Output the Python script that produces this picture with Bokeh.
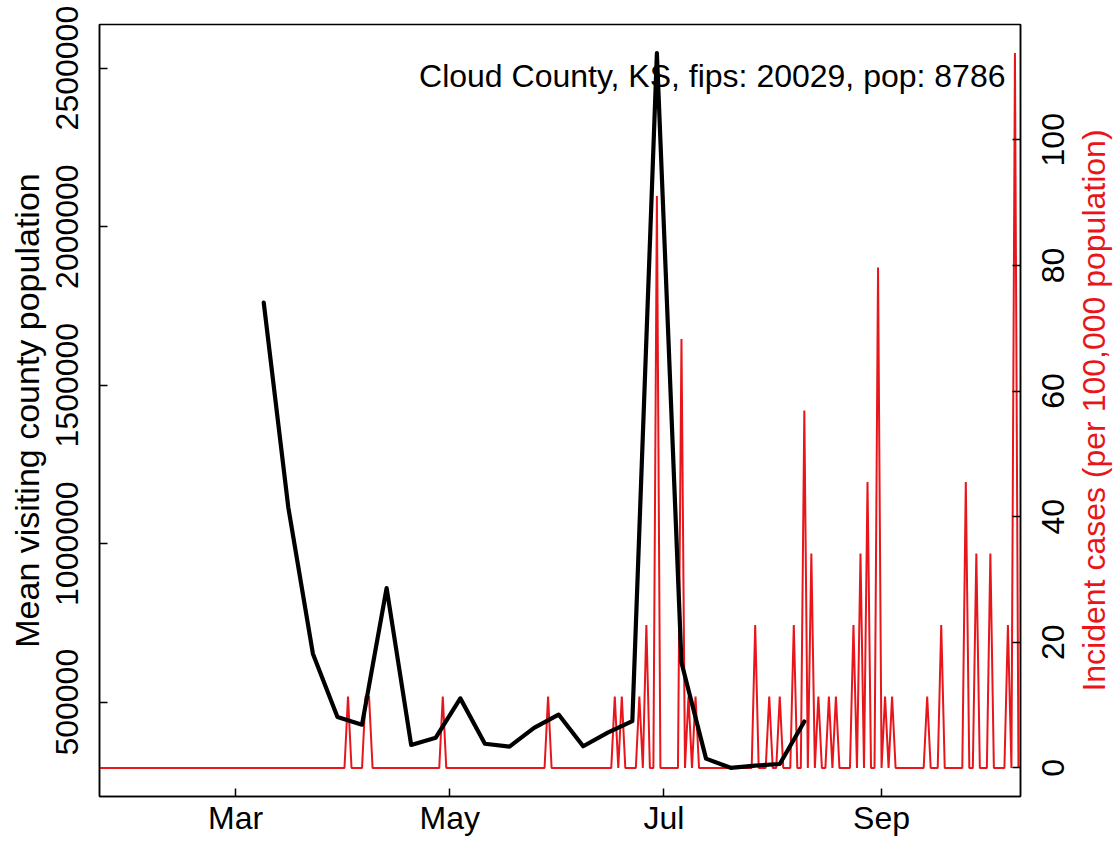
from datetime import datetime
from math import pi
import pandas as pd
from bokeh.plotting import figure
from bokeh.layouts import row
from bokeh.models import Range1d, LinearAxis, FixedTicker, Label, ColumnDataSource
from bokeh.core.properties import value
from bokeh.embed import file_html
from bokeh.resources import INLINE

# ---- data ----
visit_dates = ["2020-03-09", "2020-03-16", "2020-03-23", "2020-03-30", "2020-04-06",
               "2020-04-13", "2020-04-20", "2020-04-27", "2020-05-04", "2020-05-11",
               "2020-05-18", "2020-05-25", "2020-06-01", "2020-06-08", "2020-06-15",
               "2020-06-22", "2020-06-29", "2020-07-06", "2020-07-13", "2020-07-20",
               "2020-07-27", "2020-08-03", "2020-08-10"]
visit_pop = [1760000, 1114000, 653000, 453000, 429000,
             860000, 365000, 388000, 512000, 369000,
             360000, 419000, 461000, 361000, 404000,
             440000, 2547000, 625000, 322000, 293000,
             300000, 305000, 439000]

case_start = "2020-01-22"
case_end = "2020-10-10"
spike_dates = ["2020-04-02", "2020-04-07", "2020-04-08", "2020-04-29", "2020-05-29",
               "2020-06-17", "2020-06-19", "2020-06-24", "2020-06-26", "2020-06-29",
               "2020-07-06", "2020-07-08", "2020-07-10", "2020-07-27", "2020-07-31",
               "2020-08-03", "2020-08-07", "2020-08-10", "2020-08-12", "2020-08-14",
               "2020-08-17", "2020-08-19", "2020-08-24", "2020-08-26", "2020-08-28",
               "2020-08-31", "2020-09-02", "2020-09-04", "2020-09-14", "2020-09-18",
               "2020-09-25", "2020-09-28", "2020-10-02", "2020-10-07", "2020-10-09"]
spike_incidence = [11.38, 11.38, 11.38, 11.38, 11.38,
                   11.38, 11.38, 11.38, 22.76, 91.05,
                   68.29, 11.38, 11.38, 22.76, 11.38,
                   11.38, 22.76, 56.91, 34.15, 11.38,
                   11.38, 11.38, 22.76, 34.15, 45.53,
                   79.67, 11.38, 11.38, 11.38, 22.76,
                   45.53, 34.15, 34.15, 22.76, 113.81]

x_ticks = ["2020-03-01", "2020-05-01", "2020-07-01", "2020-09-01"]
x_tick_labels = ["Mar", "May", "Jul", "Sep"]
left_ticks = [500000, 1000000, 1500000, 2000000, 2500000]
left_tick_labels = ["500000", "1000000", "1500000", "2000000", "2500000"]
right_ticks = [0, 20, 40, 60, 80, 100]
right_tick_labels = ["0", "20", "40", "60", "80", "100"]

title_text = "Cloud County, KS, fips: 20029, pop: 8786"
left_label = "Mean visiting county population"
right_label = "Incident cases (per 100,000 population)"

# ---- build series ----
days = pd.date_range(case_start, case_end, freq="D")
inc = pd.Series(0.0, index=days)
for d, v in zip(spike_dates, spike_incidence):
    inc[pd.Timestamp(d)] = v
vd = pd.to_datetime(visit_dates)

FONT = "Liberation Sans"
FS = "32px"
RED = "#e8161b"

W, H = 1119, 842
FL, FR, FT, FB = 99, 1020, 24, 796        # frame edges in pixels
PW = 1030                                 # width of the main figure
QW = W - PW                               # width of the right label strip
x0 = datetime(2020, 1, 22, 5)
x1 = datetime(2020, 10, 10, 14)
yl0, yl1 = 202500, 2637500
yr0, yr1 = -4.552, 118.35

def xpx(px):
    return x0 + (x1 - x0) * ((px - FL) / (FR - FL))

def ylpx(py):
    return yl1 - (py - FT) / (FB - FT) * (yl1 - yl0)

p = figure(width=PW, height=H, x_axis_type="datetime",
           x_range=Range1d(x0, x1), y_range=Range1d(yl0, yl1),
           output_backend="svg", toolbar_location=None,
           min_border_left=FL, min_border_right=PW - FR,
           min_border_top=FT, min_border_bottom=H - FB)
p.grid.visible = False
p.outline_line_color = "black"
p.outline_line_width = 1.5
p.background_fill_color = "white"
p.border_fill_color = "white"

p.extra_y_ranges = {"cases": Range1d(yr0, yr1)}

p.line(days, inc.values, y_range_name="cases", line_color=RED, line_width=2)
p.line(vd, visit_pop, line_color="black", line_width=4.2, line_join="round", line_cap="round")

def ms(s):
    return (pd.Timestamp(s) - pd.Timestamp("1970-01-01")) // pd.Timedelta(milliseconds=1)

xt = [float(ms(s)) for s in x_ticks]
xa = p.xaxis[0]
xa.ticker = FixedTicker(ticks=xt)
xa.major_label_overrides = {t: l for t, l in zip(xt, x_tick_labels)}
ya = p.yaxis[0]
ya.ticker = FixedTicker(ticks=left_ticks)
ya.major_label_overrides = {t: l for t, l in zip(left_ticks, left_tick_labels)}
ya.major_label_orientation = "parallel"
ya.axis_label = left_label

ra = LinearAxis(y_range_name="cases", ticker=FixedTicker(ticks=right_ticks))
ra.major_label_overrides = {t: "" for t in right_ticks}
p.add_layout(ra, "right")

for ax in [xa, ya, ra]:
    ax.major_tick_in = 8
    ax.major_tick_out = 0
    ax.minor_tick_line_color = None
    ax.axis_line_color = "black"
    ax.axis_line_width = 1.5
    ax.major_tick_line_width = 1.5
    ax.major_label_text_font = FONT
    ax.major_label_text_font_size = FS
    ax.major_label_text_color = "black"
    ax.axis_label_text_font = FONT
    ax.axis_label_text_font_size = "34px"
    ax.axis_label_text_font_style = "normal"
    ax.axis_label_text_color = "black"
ra.major_label_text_font_size = "2px"
ra.major_label_standoff = 0

xa.major_label_standoff = 3
ya.major_label_standoff = 21
ya.axis_label_standoff = 8

# annotation top right
p.add_layout(Label(x=xpx(1005), y=ylpx(75), text=title_text,
                   text_align="right", text_baseline="alphabetic",
                   text_font=FONT, text_font_size=FS, text_color="black"))

# ---- right strip: tick labels and title of the right axis (read bottom to top) ----
q = figure(width=QW, height=H, x_range=Range1d(0, QW), y_range=Range1d(yr0, yr1),
           output_backend="svg", toolbar_location=None,
           x_axis_location=None, y_axis_location=None,
           min_border_left=0, min_border_right=0,
           min_border_top=FT, min_border_bottom=H - FB)
q.grid.visible = False
q.outline_line_color = None
q.background_fill_color = "white"
q.border_fill_color = "white"

tick_src = ColumnDataSource(dict(x=[22] * len(right_ticks), y=right_ticks,
                                 text=right_tick_labels))
q.text(x="x", y="y", text="text", source=tick_src, angle=pi / 2,
       text_align="center", text_baseline="alphabetic",
       text_font=value(FONT), text_font_size=value(FS), text_color="black")
q.text(x=[63], y=[(yr0 + yr1) / 2], text=[right_label], angle=pi / 2,
       text_align="center", text_baseline="alphabetic",
       text_font=value(FONT), text_font_size=value("32px"), text_color=RED)

layout = row(p, q, spacing=0)
open("out.html", "w").write(file_html(layout, INLINE))
